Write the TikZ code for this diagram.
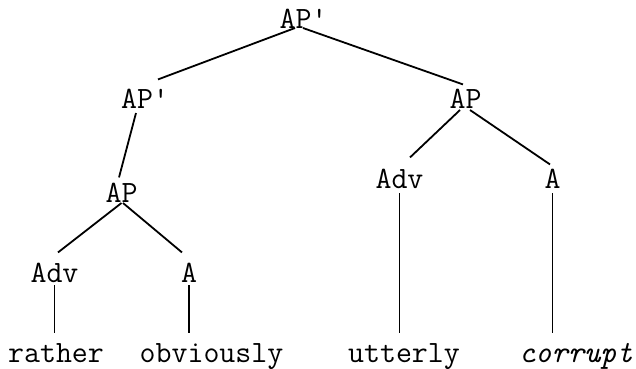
\documentclass[tikz,border=0pt]{standalone}
\usetikzlibrary{positioning}
\tikzstyle{catnode} = [
	inner sep=0pt,
	anchor=base,
	font=\ttfamily\fontsize{31}{36}\selectfont,
]
\tikzstyle{wordnode} = [catnode]
\tikzstyle{branch} = [line width=1.8pt]

\begin{document}
\begin{tikzpicture}[x=1pt,y=1pt]
		\useasboundingbox (0,0) rectangle (636,-368);

		\node (root) [catnode] at (303.5,-28) {AP\textquotesingle};
		\node (apbar) [catnode] at (145,-108) {AP\textquotesingle};
		\node (apright) [catnode] at (465.5,-108) {AP};
		\node (apleft) [catnode] at (121.5,-202) {AP};
		\node (advright) [catnode] at (399.5,-188) {Adv};
		\node (aright) [catnode] at (552.5,-188) {A};
		\node (advleft) [catnode] at (54.5,-282) {Adv};
		\node (aleft) [catnode] at (189,-282) {A};

		\node (rather) [wordnode] at (56,-362) {rather};
		\node (obviously) [wordnode] at (211.5,-362) {obviously};
		\node (utterly) [wordnode] at (404,-362) {utterly};
		\node (corrupt) [wordnode] at (576,-362) {\itshape corrupt};

		\draw [branch] ([xshift=-8.5pt]root.base) -- ([shift={(13pt,9pt)}]apbar.north);
		\draw [branch] ([xshift=-0.5pt]root.base) -- ([shift={(-2.5pt,4pt)}]apright.north);
		\draw [branch] ([shift={(-9pt,-5pt)}]apbar.base) -- ([shift={(-2.5pt,5pt)}]apleft.north);
		\draw [branch] ([yshift=-1pt]apleft.base) -- ([shift={(3.5pt,10pt)}]advleft.north);
		\draw [branch] ([shift={(1.5pt,-1pt)}]apleft.base) -- ([shift={(-7pt,10pt)}]aleft.north);
		\draw [branch] ([shift={(-5.5pt,-2pt)}]apright.base) -- ([shift={(10.5pt,11pt)}]advright.north);
		\draw [branch] ([shift={(4.5pt,-2pt)}]apright.base) -- ([shift={(-2.5pt,4pt)}]aright.north);

		\draw [branch, shorten <=3pt, shorten >=10pt] (advleft.base) -- (advleft.base |- rather.north);
		\draw [branch, shorten <=3pt, shorten >=10pt] (aleft.base) -- (aleft.base |- obviously.north);
		\draw [branch, shorten <=5pt, shorten >=10pt] (advright.base) -- (advright.base |- utterly.north);
		\draw [branch, shorten <=5pt, shorten >=10pt] (aright.base) -- (aright.base |- utterly.north);
\end{tikzpicture}
\end{document}
